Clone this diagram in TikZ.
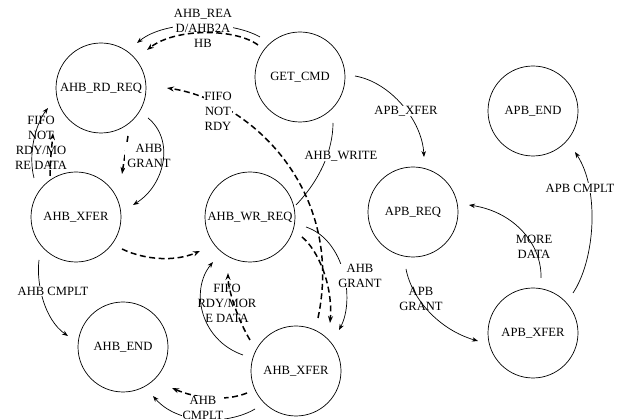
\documentclass[tikz,border=0pt]{standalone}
\usepackage{fontspec}
\setmainfont{Liberation Serif}
\usetikzlibrary{arrows.meta,calc}
\begin{document}
\begin{tikzpicture}[x=1pt,y=-1pt,
  state/.style={draw,circle,minimum size=90pt,inner sep=0pt,line width=0.7pt,font=\fontsize{12.6}{15}\selectfont},
  lbl/.style={align=center,inner sep=0.5pt,font=\fontsize{12.6}{15}\selectfont},
  wlbl/.style={lbl,fill=white},
  sol/.style={line width=0.7pt,-{Stealth[length=6pt,width=4.5pt]}},
  solnt/.style={line width=0.7pt},
  dsh/.style={line width=1.5pt,dash pattern=on 6pt off 3.5pt,-{Stealth[length=7pt,width=5pt]}},
  dshnt/.style={line width=1.5pt,dash pattern=on 6pt off 3.5pt}]
\useasboundingbox (0,0) rectangle (625,419);
% states
\node[state] (getcmd) at (300,77) {GET\_CMD};
\node[state] (rdreq) at (101,88) {AHB\_RD\_REQ};
\node[state] (xferL) at (76,217) {AHB\_XFER};
\node[state] (wrreq) at (250,217) {AHB\_WR\_REQ};
\node[state] (ahbend) at (123,347) {AHB\_END};
\node[state] (xferB) at (296,371) {AHB\_XFER};
\node[state] (apbreq) at (413,212) {APB\_REQ};
\node[state] (apbend) at (533,111) {APB\_END};
\node[state] (apbxfer) at (533,333) {APB\_XFER};

% 1 GET_CMD -> AHB_RD_REQ (solid)
\draw[sol] ($(getcmd)+(-40,-40)$) .. controls (230,20) and (165,20) .. ($(rdreq)+(36,-45)$);
\node[wlbl] (l1) at (203,28) {AHB\_REA\\D/AHB2A\\HB};
% 2 GET_CMD -> AHB_RD_REQ (dashed)
\draw[dsh] ($(getcmd)+(-42,-32)$) .. controls (235,28) and (175,28) .. ($(rdreq)+(46,-38)$);

% 4 dashed RD_REQ -> XFER_L
\draw[dsh] ($(rdreq)+(27,48)$) -- ($(xferL)+(46,-43)$);
\node[wlbl,inner sep=2.5pt] (l3) at (149,156) {AHB\\GRANT};
% 3 solid RD_REQ -> XFER_L
\draw[sol] ($(rdreq)+(47,30)$) .. controls (175,140) and (165,185) .. ($(xferL)+(57,-12)$);

% 5 solid XFER_L -> RD_REQ
\draw[sol] ($(xferL)+(-42,-39)$) .. controls (28,155) and (35,125) .. ($(rdreq)+(-53,20)$);
% 6 dashed XFER_L -> RD_REQ
\draw[dsh] ($(xferL)+(-26,-41)$) .. controls (50,160) and (52,145) .. ($(rdreq)+(-48,45)$);
\node[lbl] (l5) at (41,143) {FIFO\\NOT\\RDY/MO\\RE DATA};

% 7 solid XFER_L -> AHB_END
\draw[sol] ($(xferL)+(-37,43)$) .. controls (36,285) and (45,320) .. ($(ahbend)+(-55,-11)$);
\node[wlbl] (l7) at (53,291) {AHB CMPLT};

% 8 dashed XFER_L -> WR_REQ
\draw[dsh] ($(xferL)+(46,32)$) .. controls (145,260) and (175,262) .. ($(wrreq)+(-50,34)$);

% 9 solid GET_CMD -> WR_REQ
\draw[solnt] ($(getcmd)+(33,46)$) .. controls (333,150) and (320,180) .. ($(wrreq)+(46,-12)$);
\node[wlbl] (l9) at (341,156) {AHB\_WRITE};

% 10 dashed XFER_B -> RD_REQ
\draw[dsh] ($(xferB)+(22,-53)$) .. controls (345,190) and (250,100) .. ($(rdreq)+(66,0)$);
\node[wlbl] (l10) at (218,111) {FIFO\\NOT\\RDY};

% 11 dashed WR_REQ -> XFER_B
\draw[dsh] ($(wrreq)+(52,20)$) .. controls (318,250) and (333,285) .. ($(xferB)+(34,-48)$);
% 12 solid WR_REQ -> XFER_B
\draw[sol] ($(wrreq)+(56,10)$) .. controls (345,240) and (355,300) .. ($(xferB)+(43,-41)$);
\node[wlbl] (l12) at (360,276) {AHB\\GRANT};

% 13 solid XFER_B -> WR_REQ
\draw[sol] ($(xferB)+(-53,-16)$) .. controls (200,340) and (190,290) .. ($(wrreq)+(-37,45)$);
% 14 dashed XFER_B -> WR_REQ
\draw[dsh] ($(xferB)+(-46,-31)$) .. controls (238,320) and (228,290) .. ($(wrreq)+(-22,56)$);
\node[lbl] (l14) at (227,303) {FIFO\\RDY/MOR\\E DATA};

% 15 dashed XFER_B -> AHB_END
\draw[dsh] ($(xferB)+(-49,22)$) .. controls (225,402) and (195,398) .. ($(ahbend)+(49,41)$);
% 16 solid XFER_B -> AHB_END
\draw[sol] ($(xferB)+(-41,38)$) .. controls (228,425) and (178,425) .. ($(ahbend)+(30,49)$);
\node[wlbl] (l16) at (203,408) {AHB\\CMPLT};

% 17 solid GET_CMD -> APB_REQ
\draw[sol] ($(getcmd)+(55,-1)$) .. controls (390,82) and (422,120) .. ($(apbreq)+(11,-55)$);
\node[wlbl] (l17) at (406,111) {APB\_XFER};

% 18 solid APB_REQ -> APB_XFER
\draw[sol] ($(apbreq)+(-7,57)$) .. controls (412,300) and (440,330) .. ($(apbxfer)+(-55,8)$);
\node[lbl] (l18) at (421,299) {APB\\GRANT};

% 19 solid APB_XFER -> APB_REQ
\draw[sol] ($(apbxfer)+(8,-55)$) .. controls (542,245) and (515,212) .. ($(apbreq)+(56,-7)$);
\node[lbl] (l19) at (534,247) {MORE\\DATA};

% 20 solid APB_XFER -> APB_END
\draw[sol] ($(apbxfer)+(40,-40)$) .. controls (595,260) and (600,190) .. ($(apbend)+(42,41)$);
\node[wlbl] (l20) at (580,188) {APB CMPLT};
\end{tikzpicture}
\end{document}
